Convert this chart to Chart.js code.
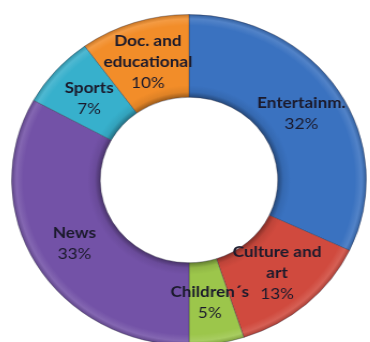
<!DOCTYPE html>
<html>
<head>
<meta charset="utf-8">
<script src="https://cdn.jsdelivr.net/npm/chart.js@4/dist/chart.umd.min.js"></script>
<style>
  html, body { margin: 0; padding: 0; background: #fff; overflow: hidden; }
  body { width: 370px; height: 342px; position: relative; }
  #wrap { position: absolute; left: 23px; top: 14px; width: 332px; height: 332px;
          transform: scaleX(1.072); transform-origin: 50% 50%; }
</style>
</head>
<body>
<div id="wrap"><canvas id="c"></canvas></div>
<script>
// TV programme genres, share of broadcast time
const categories = ["Entertainm.", "Culture and art", "Children´s", "News", "Sports", "Doc. and educational"];
const labelLines = [["Entertainm."], ["Culture and", "art"], ["Children´s"], ["News"], ["Sports"], ["Doc. and", "educational"]];
const shares = [32, 13, 5, 33, 7, 10];
const baseColors = ["#3a72c0", "#d04a3e", "#9cc64b", "#7352a7", "#37b0cc", "#f28d29"];

function shade(hex, amt) {
  const n = parseInt(hex.slice(1), 16);
  let r = (n >> 16) & 255, g = (n >> 8) & 255, b = n & 255;
  const f = v => Math.max(0, Math.min(255, Math.round(amt >= 0 ? v + (255 - v) * amt : v * (1 + amt))));
  return `rgb(${f(r)},${f(g)},${f(b)})`;
}

// bevel-like radial shading across the ring
function ringFill(ctx) {
  const chart = ctx.chart;
  const base = baseColors[ctx.dataIndex];
  const area = chart.chartArea;
  if (!area) return base;
  const cx = (area.left + area.right) / 2, cy = (area.top + area.bottom) / 2;
  const R = Math.min(area.right - area.left, area.bottom - area.top) / 2;
  const r0 = R * 0.5;
  const g = chart.ctx.createRadialGradient(cx, cy, r0, cx, cy, R);
  g.addColorStop(0, shade(base, -0.35));
  g.addColorStop(0.06, shade(base, -0.08));
  g.addColorStop(0.14, base);
  g.addColorStop(0.86, base);
  g.addColorStop(0.94, shade(base, 0.12));
  g.addColorStop(1, shade(base, -0.2));
  return g;
}

const sliceLabels = {
  id: 'sliceLabels',
  afterDatasetsDraw(chart) {
    const c = chart.ctx;
    const meta = chart.getDatasetMeta(0);
    c.save();
    c.textAlign = 'center';
    c.textBaseline = 'middle';
    c.fillStyle = '#1b1a2c';
    meta.data.forEach((arc, i) => {
      const p = arc.tooltipPosition();
      const lines = labelLines[i].slice();
      const total = lines.length + 1;
      const lh = 21;
      let y = p.y - (total - 1) * lh / 2;
      c.font = 'bold 16px Lato, "Liberation Sans", sans-serif';
      lines.forEach(t => { c.fillText(t, p.x, y); y += lh; });
      c.font = '16px Lato, "Liberation Sans", sans-serif';
      c.fillText(shares[i] + '%', p.x, y);
    });
    c.restore();
  }
};

new Chart(document.getElementById('c'), {
  type: 'doughnut',
  data: {
    labels: categories,
    datasets: [{
      data: shares,
      backgroundColor: ringFill,
      borderColor: 'rgba(40,40,60,0.35)',
      borderWidth: 1
    }]
  },
  options: {
    responsive: true,
    maintainAspectRatio: false,
    animation: false,
    cutout: '50%',
    rotation: 0,
    layout: { padding: 0 },
    plugins: { legend: { display: false }, tooltip: { enabled: false } }
  },
  plugins: [sliceLabels]
});
</script>
</body>
</html>
